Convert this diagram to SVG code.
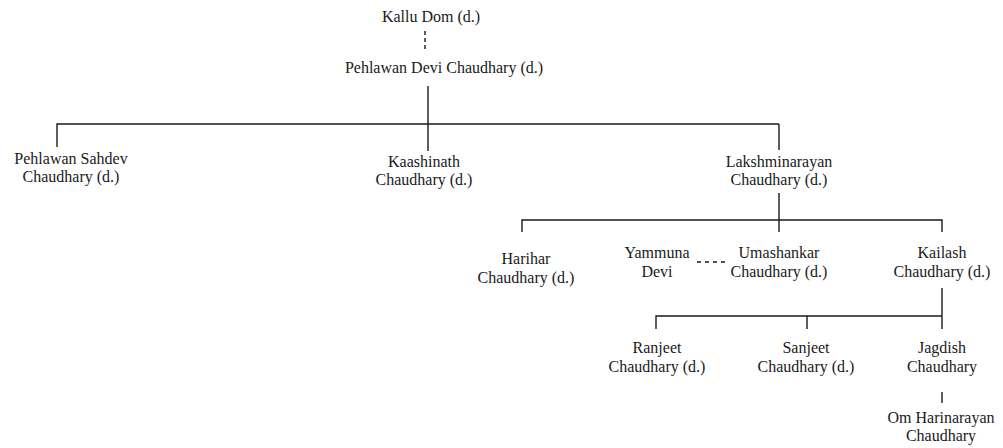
<svg xmlns="http://www.w3.org/2000/svg" width="1003" height="448" viewBox="0 0 1003 448">
<style>
text{font-family:"Liberation Serif","Times New Roman",serif;font-size:16px;fill:#1a1a1a;text-anchor:middle}
.l{stroke:#1a1a1a;stroke-width:1.4;fill:none}
.d{stroke:#1a1a1a;stroke-width:1.4;fill:none;stroke-dasharray:4 3}
.dh{stroke:#1a1a1a;stroke-width:1.3;fill:none;stroke-dasharray:4 4}
</style>
<rect width="1003" height="448" fill="#fff"/>
<g id="connectors">
<path class="d" d="M425 31V51"/>
<path class="l" d="M428 86V124M57 147V124H779M428 124V151M779 124V150"/>
<path class="l" d="M779 193V232M522 232V220H942V232"/>
<path class="dh" d="M697 262H726"/>
<path class="l" d="M942 288V329M656 329V316H942M807 316V329"/>
<path class="l" d="M942 392V403"/>
</g>
<g id="kallu"><text x="431" y="22">Kallu Dom (d.)</text></g>
<g id="pehlawan-devi"><text x="444" y="73">Pehlawan Devi Chaudhary (d.)</text></g>
<g id="pehlawan-sahdev"><text x="71" y="164">Pehlawan Sahdev</text><text x="71" y="182">Chaudhary (d.)</text></g>
<g id="kaashinath"><text x="424" y="167">Kaashinath</text><text x="424" y="185">Chaudhary (d.)</text></g>
<g id="lakshminarayan"><text x="779" y="167">Lakshminarayan</text><text x="779" y="185">Chaudhary (d.)</text></g>
<g id="harihar"><text x="526" y="264">Harihar</text><text x="526" y="283">Chaudhary (d.)</text></g>
<g id="yammuna"><text x="657" y="258">Yammuna</text><text x="657" y="277">Devi</text></g>
<g id="umashankar"><text x="779" y="258">Umashankar</text><text x="779" y="277">Chaudhary (d.)</text></g>
<g id="kailash"><text x="942" y="258">Kailash</text><text x="942" y="277">Chaudhary (d.)</text></g>
<g id="ranjeet"><text x="657" y="353">Ranjeet</text><text x="657" y="372">Chaudhary (d.)</text></g>
<g id="sanjeet"><text x="806" y="353">Sanjeet</text><text x="806" y="372">Chaudhary (d.)</text></g>
<g id="jagdish"><text x="942" y="353">Jagdish</text><text x="942" y="372">Chaudhary</text></g>
<g id="om-harinarayan"><text x="941" y="423">Om Harinarayan</text><text x="941" y="441">Chaudhary</text></g>
</svg>
